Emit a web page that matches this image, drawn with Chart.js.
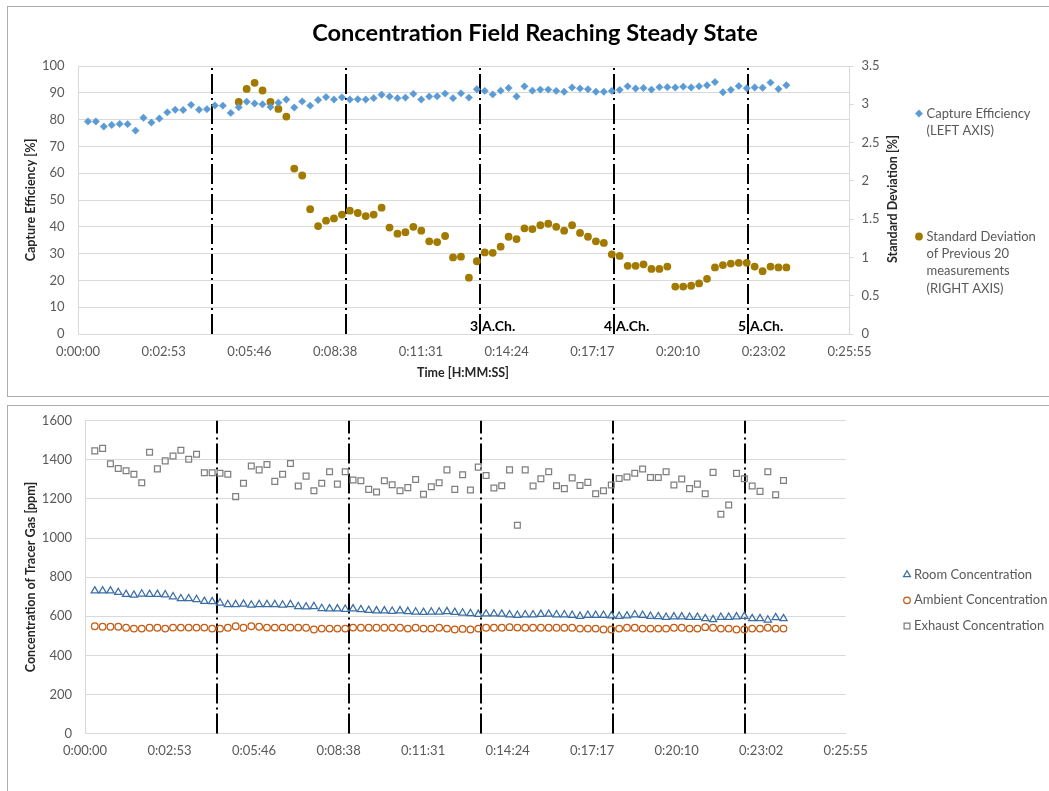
<!DOCTYPE html>
<html>
<head>
<meta charset="utf-8">
<title>Concentration Field Reaching Steady State</title>
<script src="https://cdn.jsdelivr.net/npm/chart.js@4.4.1/dist/chart.umd.min.js"></script>
<style>
  html, body { margin: 0; padding: 0; background: #ffffff; }
  body { width: 1049px; height: 791px; position: relative; overflow: hidden; }
  .frame { position: absolute; border: 1px solid #ABABAB; box-sizing: border-box; }
  #topFrame { left: 7px; top: 6px; width: 1060px; height: 391px; }
  #bottomFrame { left: 7px; top: 405px; width: 1060px; height: 420px; }
  canvas { position: absolute; left: 0; }
  #topChart { top: 0; width: 1049px; height: 400px; }
  #bottomChart { top: 400px; width: 1049px; height: 391px; }
</style>
</head>
<body>
<div class="frame" id="topFrame"></div>
<div class="frame" id="bottomFrame"></div>
<canvas id="topChart" width="1049" height="400"></canvas>
<canvas id="bottomChart" width="1049" height="391"></canvas>
<script>
// Measurement times in seconds from start of the test (one sample every 16 s)
const sampleTimes = [
  20, 36, 52, 68, 84, 100, 116, 132, 148, 164,
  180, 196, 212, 228, 244, 260, 276, 292, 308, 324,
  340, 356, 372, 388, 404, 420, 436, 452, 468, 484,
  500, 516, 532, 548, 564, 580, 596, 612, 628, 644,
  660, 676, 692, 708, 724, 740, 756, 772, 788, 804,
  820, 836, 852, 868, 884, 900, 916, 932, 948, 964,
  980, 996, 1012, 1028, 1044, 1060, 1076, 1092, 1108, 1124,
  1140, 1156, 1172, 1188, 1204, 1220, 1236, 1252, 1268, 1284,
  1300, 1316, 1332, 1348, 1364, 1380, 1396, 1412, 1428
];

// Capture efficiency [%] (left axis)
const captureEfficiency = [
  79.3, 79.3, 77.4, 78.0, 78.4, 78.3, 75.9, 80.7, 78.9, 80.4,
  82.7, 83.7, 83.6, 85.5, 83.7, 83.9, 85.3, 85.2, 82.5, 84.6,
  86.7, 86.0, 85.7, 84.7, 86.3, 87.5, 84.5, 86.8, 85.2, 87.3,
  88.4, 87.5, 88.3, 87.5, 87.6, 87.5, 88.0, 89.3, 88.6, 88.0,
  88.2, 89.6, 87.5, 88.6, 88.7, 89.7, 88.0, 89.8, 88.2, 91.3,
  90.7, 89.4, 90.8, 91.8, 88.6, 92.4, 90.8, 91.2, 91.2, 90.7,
  90.4, 92.0, 91.6, 91.3, 90.4, 90.4, 90.7, 91.1, 92.4, 91.6,
  91.8, 91.2, 92.1, 92.1, 92.0, 92.3, 92.0, 92.4, 92.8, 94.0,
  90.2, 91.1, 92.5, 91.7, 92.0, 91.9, 93.8, 91.4, 92.8
];

// Standard deviation of the previous 20 measurements [%] (right axis)
const stdDevPrev20 = [
  null, null, null, null, null, null, null, null, null, null,
  null, null, null, null, null, null, null, null, null, 3.03,
  3.20, 3.28, 3.18, 3.03, 2.94, 2.84, 2.16, 2.07, 1.63, 1.41,
  1.48, 1.51, 1.56, 1.61, 1.58, 1.54, 1.56, 1.65, 1.39, 1.31,
  1.33, 1.40, 1.35, 1.21, 1.20, 1.28, 1.00, 1.01, 0.735, 0.95,
  1.065, 1.06, 1.14, 1.27, 1.24, 1.38, 1.37, 1.42, 1.44, 1.40,
  1.35, 1.42, 1.32, 1.27, 1.21, 1.19, 1.04, 1.02, 0.89, 0.89,
  0.91, 0.85, 0.85, 0.88, 0.62, 0.62, 0.63, 0.66, 0.72, 0.87,
  0.90, 0.92, 0.93, 0.93, 0.88, 0.82, 0.88, 0.87, 0.87
];

// Tracer gas concentrations [ppm]
const roomConc = [
  730, 730, 730, 722, 712, 708, 714, 712, 712, 710,
  700, 690, 690, 686, 676, 675, 668, 660, 660, 662,
  658, 660, 660, 660, 658, 660, 650, 648, 650, 640,
  638, 638, 636, 638, 634, 630, 628, 628, 626, 628,
  624, 622, 620, 622, 622, 624, 620, 617, 614, 610,
  612, 612, 611, 608, 605, 608, 608, 610, 611, 608,
  608, 605, 600, 605, 605, 605, 602, 600, 602, 608,
  605, 600, 598, 595, 597, 597, 595, 595, 588, 583,
  595, 595, 597, 600, 588, 588, 581, 593, 588
];

const ambientConc = [
  549, 546, 546, 546, 541, 537, 537, 541, 541, 537,
  542, 542, 542, 542, 542, 537, 537, 541, 549, 541,
  549, 546, 542, 542, 542, 542, 542, 541, 532, 537,
  537, 537, 537, 542, 541, 541, 541, 541, 541, 541,
  537, 541, 537, 537, 541, 537, 532, 535, 532, 537,
  541, 541, 541, 544, 542, 541, 541, 541, 541, 541,
  541, 541, 537, 537, 537, 532, 532, 537, 541, 541,
  537, 537, 537, 537, 541, 541, 537, 537, 544, 541,
  537, 537, 532, 532, 537, 537, 541, 537, 537
];

const exhaustConc = [
  1446, 1459, 1380, 1356, 1344, 1327, 1283, 1439, 1354, 1395,
  1420, 1449, 1403, 1429, 1334, 1334, 1332, 1327, 1212, 1280,
  1369, 1349, 1376, 1290, 1327, 1381, 1266, 1317, 1242, 1280,
  1339, 1276, 1339, 1297, 1293, 1249, 1236, 1293, 1273, 1242,
  1258, 1300, 1224, 1263, 1283, 1349, 1249, 1324, 1246, 1363,
  1320, 1256, 1268, 1349, 1066, 1349, 1266, 1303, 1339, 1268,
  1253, 1308, 1269, 1285, 1227, 1242, 1271, 1305, 1312, 1332,
  1353, 1310, 1310, 1339, 1271, 1302, 1253, 1276, 1227, 1336,
  1122, 1169, 1331, 1303, 1266, 1239, 1339, 1222, 1295
];

// Time axis: ticks every 0.002 day (172.8 s), shown as H:MM:SS
const timeTickValues = [0, 172.8, 345.6, 518.4, 691.2, 864, 1036.8, 1209.6, 1382.4, 1555.2];
const timeTickLabels = ['0:00:00', '0:02:53', '0:05:46', '0:08:38', '0:11:31',
                        '0:14:24', '0:17:17', '0:20:10', '0:23:02', '0:25:55'];

// Moments when the air change rate was switched, with the rate reached
const airChangeTimes = [270, 540, 810, 1080, 1350];
const airChangeRates = [null, null, '3', '4', '5'];

const toPoints = (values) => sampleTimes.map((t, i) => ({ x: t, y: values[i] }));

const TICK_FONT = { family: 'Lato', size: 13 };
const TICK_COLOR = '#595959';
const GRID_COLOR = '#D9D9D9';
const plainNumber = (value) => String(value);

// Dash-dot vertical markers at each change of air change rate
const airChangeLinesPlugin = {
  id: 'airChangeLines',
  beforeDatasetsDraw(chart) {
    const { ctx, chartArea: { top, bottom }, scales: { x } } = chart;
    ctx.save();
    ctx.strokeStyle = '#000000';
    ctx.lineWidth = 2;
    ctx.setLineDash([20, 4, 2, 4]);
    airChangeTimes.forEach((t) => {
      const px = Math.round(x.getPixelForValue(t));
      ctx.beginPath();
      ctx.moveTo(px, bottom);
      ctx.lineTo(px, top);
      ctx.stroke();
    });
    ctx.restore();
  },
  afterDatasetsDraw(chart, args, opts) {
    if (!opts.showRates) return;
    const { ctx, scales: { x } } = chart;
    ctx.save();
    ctx.fillStyle = '#000000';
    ctx.font = 'bold 14px Lato';
    ctx.textBaseline = 'middle';
    airChangeTimes.forEach((t, i) => {
      const rate = airChangeRates[i];
      if (!rate) return;
      const px = Math.round(x.getPixelForValue(t));
      ctx.textAlign = 'right';
      ctx.fillText(rate, px - 2, opts.rateY);
      ctx.textAlign = 'left';
      ctx.fillText('A.Ch.', px + 2, opts.rateY);
    });
    ctx.restore();
  }
};

// Chart title, axis titles and the legend block on the right
const decorPlugin = {
  id: 'decor',
  afterDraw(chart, args, opts) {
    const { ctx } = chart;
    ctx.save();
    ctx.textBaseline = 'middle';
    (opts.texts || []).forEach((t) => {
      ctx.save();
      ctx.translate(t.x, t.y);
      if (t.rotate) ctx.rotate(t.rotate);
      ctx.font = t.font;
      ctx.fillStyle = t.color;
      ctx.textAlign = 'center';
      ctx.fillText(t.text, 0, 0);
      ctx.restore();
    });
    (opts.legend || []).forEach((item) => {
      const ds = chart.data.datasets[item.dataset];
      ctx.save();
      ctx.fillStyle = ds.backgroundColor;
      ctx.strokeStyle = ds.borderColor;
      ctx.lineWidth = ds.borderWidth;
      Chart.helpers.drawPoint(ctx, {
        pointStyle: ds.pointStyle,
        radius: item.markerRadius || ds.pointRadius,
        rotation: 0,
        borderWidth: ds.borderWidth
      }, item.markerX, item.y);
      ctx.restore();
      ctx.font = opts.legendFont;
      ctx.fillStyle = '#595959';
      ctx.textAlign = 'left';
      item.lines.forEach((line, k) => {
        ctx.fillText(line, item.textX, item.y + k * opts.legendLineHeight);
      });
    });
    ctx.restore();
  }
};

const timeAxis = (height) => ({
  type: 'linear',
  min: 0,
  max: 1555.2,
  afterBuildTicks: (scale) => { scale.ticks = timeTickValues.map((v) => ({ value: v })); },
  afterFit: (scale) => { scale.height = height; },
  ticks: {
    callback: (value, index) => timeTickLabels[index],
    autoSkip: false,
    maxRotation: 0,
    padding: 10,
    color: TICK_COLOR,
    font: TICK_FONT
  },
  grid: { display: false, drawTicks: false },
  border: { display: true, color: GRID_COLOR, width: 1 }
});

// Upper chart: capture efficiency and its running standard deviation
new Chart(document.getElementById('topChart'), {
  type: 'scatter',
  data: {
    datasets: [
      {
        label: 'Capture Efficiency (LEFT AXIS)',
        data: toPoints(captureEfficiency),
        yAxisID: 'y',
        pointStyle: 'rectRot',
        pointRadius: 3.7,
        backgroundColor: '#5B9BD5',
        borderColor: '#5B9BD5',
        borderWidth: 0.5
      },
      {
        label: 'Standard Deviation of Previous 20 measurements (RIGHT AXIS)',
        data: toPoints(stdDevPrev20),
        yAxisID: 'y1',
        pointStyle: 'circle',
        pointRadius: 3.9,
        backgroundColor: '#A27A00',
        borderColor: '#A27A00',
        borderWidth: 0
      }
    ]
  },
  options: {
    responsive: false,
    animation: false,
    events: [],
    layout: { padding: { top: 66, left: 0, right: 159.5, bottom: 0 } },
    plugins: {
      legend: { display: false },
      tooltip: { enabled: false },
      airChangeLines: { showRates: true, rateY: 326.7 },
      decor: {
        texts: [
          { text: 'Concentration Field Reaching Steady State', x: 535, y: 33, font: 'bold 23.6px Lato', color: '#000000' },
          { text: 'Capture Efficiency [%]', x: 31, y: 200, rotate: -Math.PI / 2, font: 'bold 12.5px Lato', color: '#262626' },
          { text: 'Standard Deviation [%]', x: 893, y: 199, rotate: -Math.PI / 2, font: 'bold 12.5px Lato', color: '#262626' },
          { text: 'Time [H:MM:SS]', x: 463, y: 373, font: 'bold 12.5px Lato', color: '#262626' }
        ],
        legendFont: '13px Lato',
        legendLineHeight: 17.3,
        legend: [
          { dataset: 0, markerX: 919, textX: 926.5, y: 113.5, lines: ['Capture Efficiency', '(LEFT AXIS)'] },
          { dataset: 1, markerX: 919, textX: 926.5, y: 236.5, lines: ['Standard Deviation', 'of Previous 20', 'measurements', '(RIGHT AXIS)'] }
        ]
      }
    },
    scales: {
      x: timeAxis(66),
      y: {
        position: 'left',
        min: 0,
        max: 100,
        afterFit: (scale) => { scale.width = 78; },
        ticks: { stepSize: 10, padding: 13.5, color: TICK_COLOR, font: TICK_FONT, callback: plainNumber },
        grid: { color: GRID_COLOR, drawTicks: false },
        border: { display: true, color: GRID_COLOR }
      },
      y1: {
        position: 'right',
        min: 0,
        max: 3.5,
        afterFit: (scale) => { scale.width = 40; },
        ticks: { stepSize: 0.5, padding: 8, color: TICK_COLOR, font: TICK_FONT, callback: plainNumber },
        grid: { drawOnChartArea: false, drawTicks: true, tickLength: 4, color: GRID_COLOR },
        border: { display: true, color: GRID_COLOR }
      }
    }
  },
  plugins: [airChangeLinesPlugin, decorPlugin]
});

// Lower chart: room, ambient and exhaust tracer gas concentration
new Chart(document.getElementById('bottomChart'), {
  type: 'scatter',
  data: {
    datasets: [
      {
        label: 'Room Concentration',
        data: toPoints(roomConc),
        pointStyle: 'triangle',
        pointRadius: 4.2,
        backgroundColor: 'rgba(0,0,0,0)',
        borderColor: '#3A6EA5',
        borderWidth: 1.25
      },
      {
        label: 'Ambient Concentration',
        data: toPoints(ambientConc),
        pointStyle: 'circle',
        pointRadius: 3.3,
        backgroundColor: 'rgba(0,0,0,0)',
        borderColor: '#C55A11',
        borderWidth: 1.25
      },
      {
        label: 'Exhaust Concentration',
        data: toPoints(exhaustConc),
        pointStyle: 'rect',
        pointRadius: 4.1,
        backgroundColor: 'rgba(0,0,0,0)',
        borderColor: '#7F7F7F',
        borderWidth: 1.25
      }
    ]
  },
  options: {
    responsive: false,
    animation: false,
    events: [],
    layout: { padding: { top: 19.6, left: 0, right: 203.3, bottom: 0 } },
    plugins: {
      legend: { display: false },
      tooltip: { enabled: false },
      airChangeLines: { showRates: false },
      decor: {
        texts: [
          { text: 'Concentration of Tracer Gas [ppm]', x: 31, y: 177, rotate: -Math.PI / 2, font: 'bold 12.5px Lato', color: '#262626' }
        ],
        legendFont: '13px Lato',
        legendLineHeight: 17,
        legend: [
          { dataset: 0, markerX: 907, textX: 914, y: 174.7, markerRadius: 4, lines: ['Room Concentration'] },
          { dataset: 1, markerX: 907, textX: 914, y: 200.3, lines: ['Ambient Concentration'] },
          { dataset: 2, markerX: 907, textX: 914, y: 226, lines: ['Exhaust Concentration'] }
        ]
      }
    },
    scales: {
      x: timeAxis(57.5),
      y: {
        position: 'left',
        min: 0,
        max: 1600,
        afterFit: (scale) => { scale.width = 85; },
        ticks: { stepSize: 200, padding: 13, color: TICK_COLOR, font: TICK_FONT, callback: plainNumber },
        grid: { color: GRID_COLOR, drawTicks: false },
        border: { display: true, color: GRID_COLOR }
      }
    }
  },
  plugins: [airChangeLinesPlugin, decorPlugin]
});
</script>
</body>
</html>
